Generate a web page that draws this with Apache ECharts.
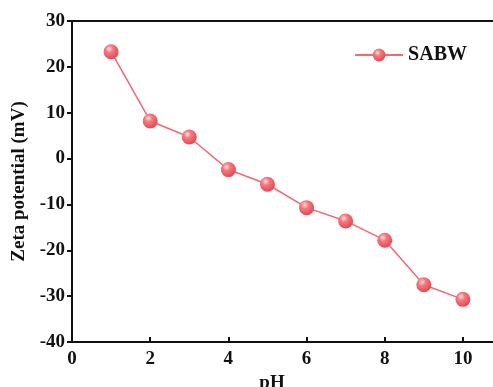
<!DOCTYPE html>
<html><head><meta charset="utf-8">
<script src="https://cdn.jsdelivr.net/npm/echarts@6/dist/echarts.min.js"></script>
<style>html,body{margin:0;padding:0;background:#fff}#c{width:493px;height:387px}</style>
</head><body><div id="c"></div>
<script>
const pH = [1, 2, 3, 4, 5, 6, 7, 8, 9, 10];
const zeta = [23.3, 8.2, 4.7, -2.4, -5.6, -10.7, -13.6, -17.8, -27.5, -30.7];
const seriesName = 'SABW';
const xTicks = [0, 2, 4, 6, 8, 10];
const yTicks = [-40, -30, -20, -10, 0, 10, 20, 30];

const font = '"Liberation Serif", "Times New Roman", serif';
const chart = echarts.init(document.getElementById('c'), null, {renderer: 'canvas'});
const markerColor = {
  type: 'radial', x: 0.38, y: 0.32, r: 0.7,
  colorStops: [{offset: 0, color: '#ffe0e0'}, {offset: 0.35, color: '#f47a80'}, {offset: 1, color: '#e0484f'}]
};
chart.setOption({
  animation: false,
  grid: {left: 72, top: 21, right: -9, bottom: 45, show: true, borderColor: '#111', borderWidth: 2,
    backgroundColor: 'transparent', containLabel: false, outerBoundsMode: 'none'},
  legend: {
    data: [seriesName], right: 21, top: 40, itemWidth: 48, itemHeight: 16,
    textStyle: {fontFamily: font, fontWeight: 'bold', fontSize: 20, color: '#111'}
  },
  xAxis: {
    type: 'value', min: 0, max: 11, interval: 2,
    name: 'pH', nameLocation: 'middle', nameGap: 27,
    nameTextStyle: {fontFamily: font, fontWeight: 'bold', fontSize: 19, color: '#111', padding: [0, 30, 0, 0]},
    axisLine: {show: true, onZero: false, lineStyle: {color: '#111', width: 2}},
    axisTick: {show: true, inside: true, length: 5, lineStyle: {width: 2}},
    splitLine: {show: false},
    axisLabel: {fontFamily: font, fontWeight: 'bold', fontSize: 19, color: '#111', margin: 8,
      formatter: v => xTicks.includes(v) ? String(v) : ''}
  },
  yAxis: {
    type: 'value', min: -40, max: 30, interval: 10,
    name: 'Zeta potential (mV)', nameLocation: 'middle', nameGap: 43,
    nameTextStyle: {fontFamily: font, fontWeight: 'bold', fontSize: 19, color: '#111'},
    axisLine: {show: true, onZero: false, lineStyle: {color: '#111', width: 2}},
    axisTick: {show: true, inside: false, length: 5, lineStyle: {width: 2}},
    splitLine: {show: false},
    axisLabel: {fontFamily: font, fontWeight: 'bold', fontSize: 19, color: '#111', margin: 7,
      formatter: v => yTicks.includes(v) ? String(v) : ''}
  },
  series: [{
    name: seriesName, type: 'line',
    data: pH.map((x, i) => [x, zeta[i]]),
    symbol: 'circle', symbolSize: 15,
    lineStyle: {color: '#f06a72', width: 1.5},
    itemStyle: {color: markerColor, borderWidth: 0},
    color: '#f06a72'
  }]
});
</script></body></html>
